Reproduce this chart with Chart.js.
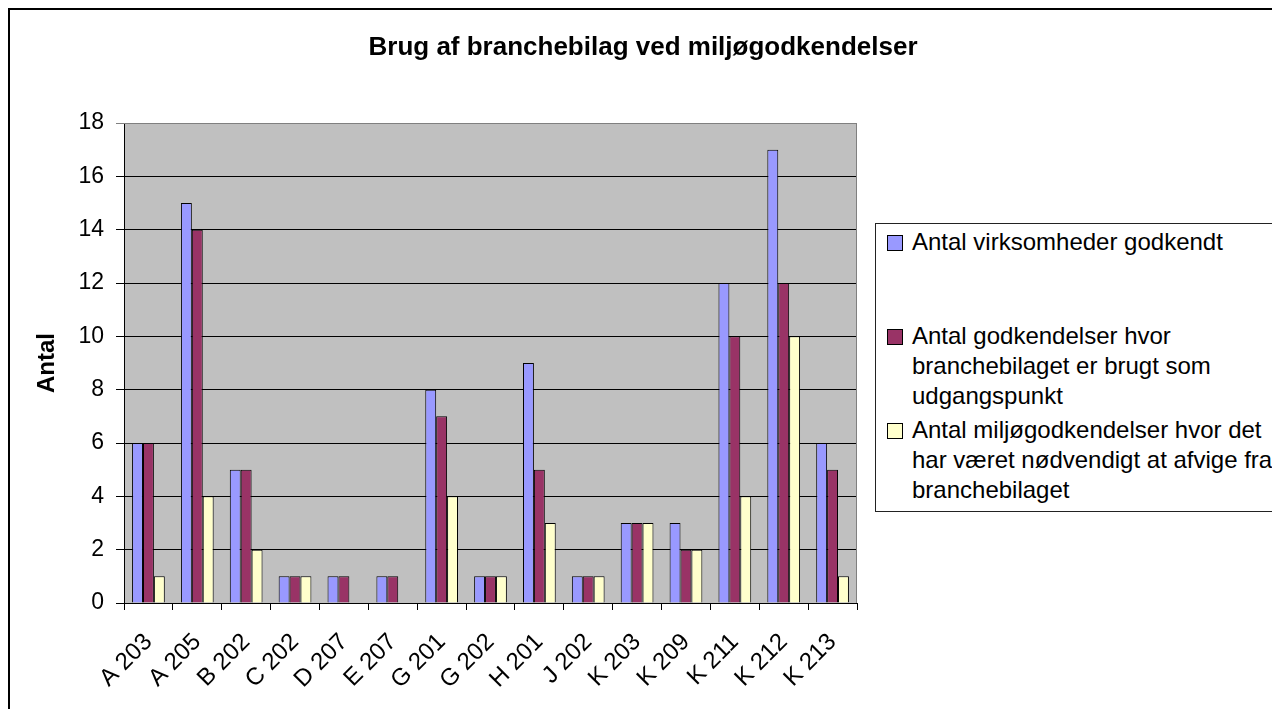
<!DOCTYPE html>
<html>
<head>
<meta charset="utf-8">
<title>Brug af branchebilag ved miljøgodkendelser</title>
<script src="https://cdn.jsdelivr.net/npm/chart.js@4.4.0/dist/chart.umd.min.js"></script>
<style>
    html, body { margin: 0; padding: 0; background: #fff; overflow: hidden; }
    #wrap { position: relative; width: 1272px; height: 709px; }
    #chart { position: absolute; left: 0; top: 0; }
    #legend {
        position: absolute; left: 875px; top: 223px; width: 440px; height: 287px;
        border: 1px solid #222; background: #fff;
        font: 24px "Liberation Sans", Arial, sans-serif; color: #000;
    }
    .item { position: absolute; left: 36px; line-height: 30px; white-space: nowrap; }
    .swatch { position: absolute; left: -25px; top: 8px; width: 14px; height: 14px; border: 1px solid #000; }
</style>
</head>
<body>
<div id="wrap">
    <canvas id="chart" width="1272" height="709"></canvas>
    <div id="legend"></div>
</div>
<script>
// Données
var titre = 'Brug af branchebilag ved miljøgodkendelser';
var axeY = 'Antal';
var categories = ['A 203', 'A 205', 'B 202', 'C 202', 'D 207', 'E 207', 'G 201', 'G 202',
                  'H 201', 'J 202', 'K 203', 'K 209', 'K 211', 'K 212', 'K 213'];
var virksomheder = [6, 15, 5, 1, 1, 1, 8, 1, 9, 1, 3, 3, 12, 17, 6];
var udgangspunkt = [6, 14, 5, 1, 1, 1, 7, 1, 5, 1, 3, 2, 10, 12, 5];
var afvigelser   = [1, 4, 2, 1, 0, 0, 4, 1, 3, 1, 3, 2, 4, 10, 1];
var serieNoms = [
    ['Antal virksomheder godkendt'],
    ['Antal godkendelser hvor', 'branchebilaget er brugt som', 'udgangspunkt'],
    ['Antal miljøgodkendelser hvor det', 'har været nødvendigt at afvige fra', 'branchebilaget']
];
var couleurs = ['#9999FF', '#993366', '#FFFFCC'];
var yTicks = [0, 2, 4, 6, 8, 10, 12, 14, 16, 18];

var police = '"Liberation Sans", Arial, sans-serif';

// Cadre, fond gris de la zone de tracé, titre
var decor = {
    id: 'decor',
    beforeDraw: function (chart) {
        var c = chart.ctx, a = chart.chartArea;
        c.save();
        c.fillStyle = '#fff';
        c.fillRect(0, 0, chart.width, chart.height);
        c.strokeStyle = '#000';
        c.lineWidth = 2;
        c.strokeRect(9, 9, 1400, 900);
        c.fillStyle = '#C0C0C0';
        c.fillRect(a.left, a.top, a.right - a.left, a.bottom - a.top);
        c.fillStyle = '#000';
        c.font = 'bold 26px ' + police;
        c.textAlign = 'center';
        c.textBaseline = 'middle';
        c.fillText(titre, 643, 48);
        c.restore();
    },
    beforeDatasetsDraw: function (chart) {
        var c = chart.ctx, a = chart.chartArea;
        c.save();
        c.strokeStyle = '#808080';
        c.lineWidth = 1;
        c.beginPath();
        c.moveTo(a.left, a.top + 0.5);
        c.lineTo(a.right - 0.5, a.top + 0.5);
        c.lineTo(a.right - 0.5, a.bottom);
        c.stroke();
        c.restore();
    }
};

var series = [virksomheder, udgangspunkt, afvigelser];

new Chart(document.getElementById('chart'), {
    type: 'bar',
    data: {
        labels: categories,
        datasets: series.map(function (vals, i) {
            return {
                label: serieNoms[i].join(' '),
                data: vals,
                backgroundColor: couleurs[i],
                borderColor: '#000',
                borderWidth: function (ctx) { return ctx.raw === 0 ? 0 : 1; },
                categoryPercentage: 0.67,
                barPercentage: 1.0
            };
        })
    },
    options: {
        responsive: false,
        animation: false,
        devicePixelRatio: 1,
        layout: { padding: { left: 0, top: 123, right: 415, bottom: 0 } },
        plugins: {
            legend: { display: false },
            tooltip: { enabled: false }
        },
        scales: {
            x: {
                afterFit: function (s) { s.height = 106; },
                grid: {
                    offset: true, drawOnChartArea: false, drawTicks: true,
                    tickLength: 7, color: '#000', lineWidth: 1
                },
                border: { display: true, color: '#000', width: 1 },
                ticks: {
                    color: '#000', font: { family: police, size: 24 },
                    minRotation: 45, maxRotation: 45, padding: 18, autoSkip: false
                }
            },
            y: {
                min: 0, max: 18,
                afterFit: function (s) { s.width = 124; },
                afterBuildTicks: function (s) {
                    s.ticks = yTicks.map(function (v) { return { value: v }; });
                },
                grid: {
                    color: function (ctx) { return ctx.tick && ctx.tick.value === 18 ? '#808080' : '#000'; },
                    lineWidth: 1, tickLength: 8
                },
                border: { display: true, color: '#000', width: 1 },
                ticks: { color: '#000', font: { family: police, size: 23 }, padding: 12 },
                title: {
                    display: true, text: axeY, color: '#000',
                    font: { family: police, size: 24, weight: 'bold' },
                    padding: { top: 33, bottom: 0 }
                }
            }
        }
    },
    plugins: [decor]
});

// Légende HTML (texte sur plusieurs lignes comme dans l'original)
var legend = document.getElementById('legend');
serieNoms.forEach(function (lignes, i) {
    var item = document.createElement('div');
    item.className = 'item';
    item.style.top = (3 + i * 94) + 'px';
    item.innerHTML = '<span class="swatch" style="background:' + couleurs[i] + '"></span>' +
        lignes.join('<br>');
    legend.appendChild(item);
});
</script>
</body>
</html>
